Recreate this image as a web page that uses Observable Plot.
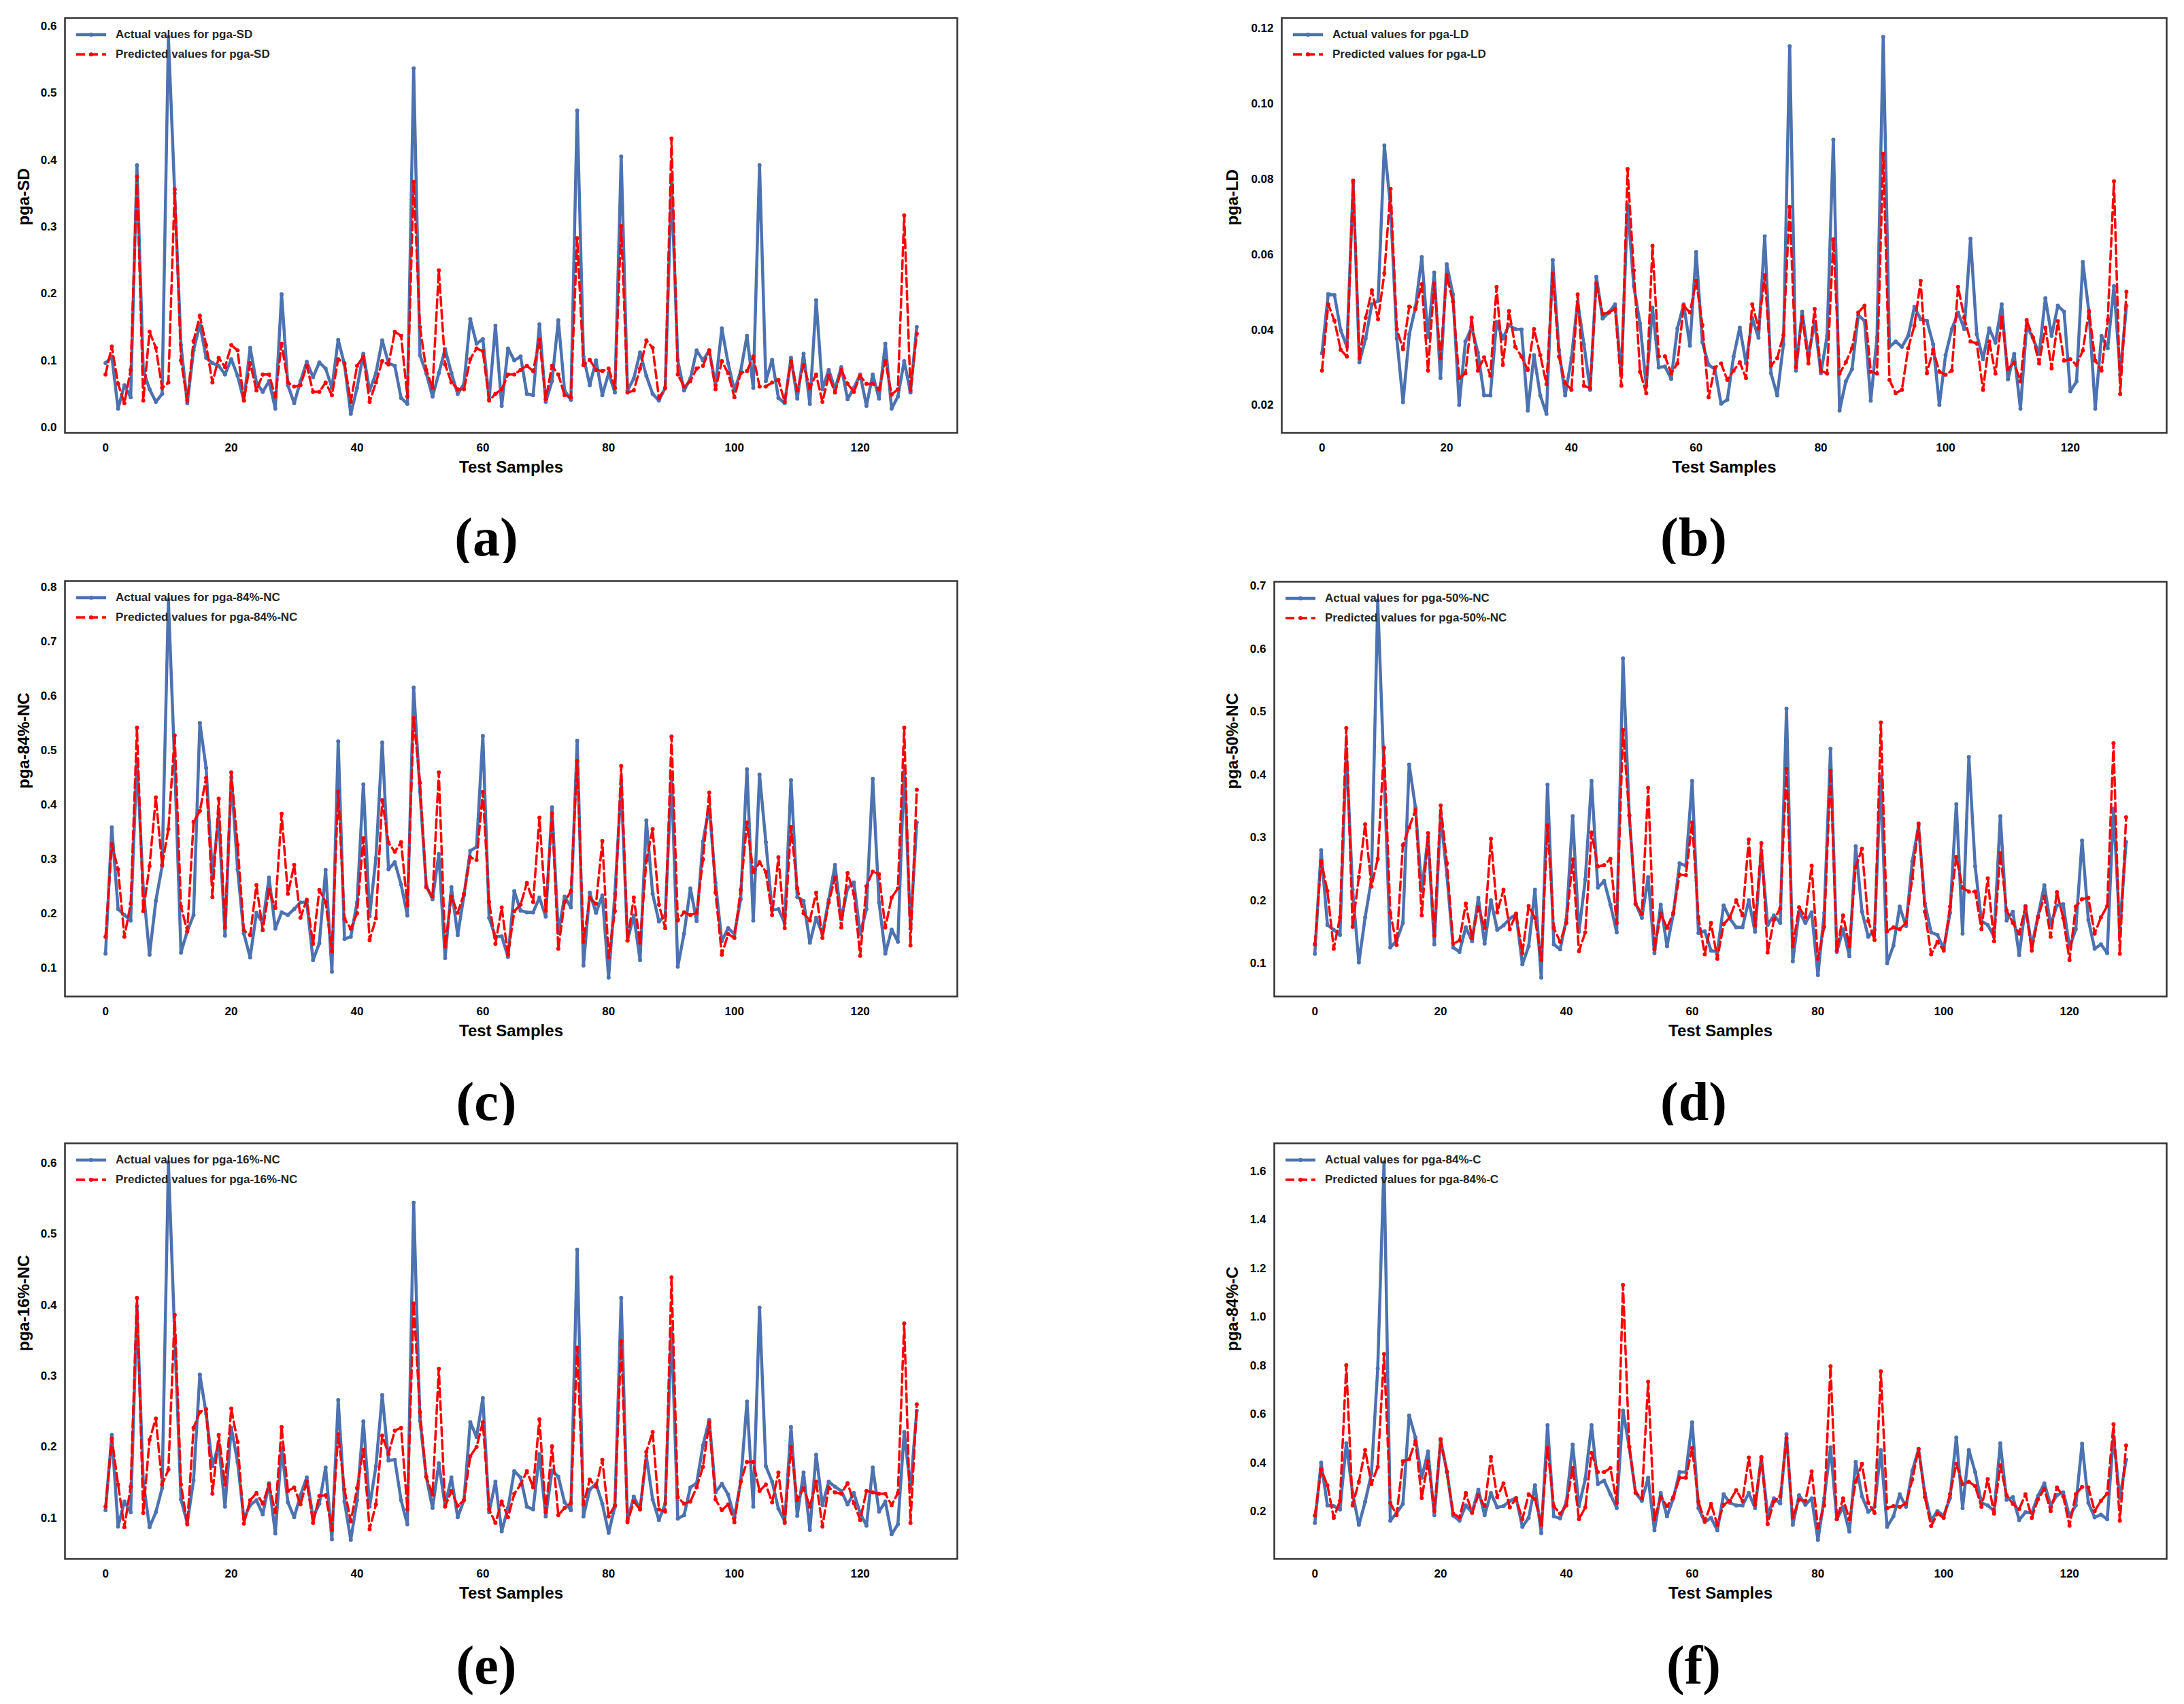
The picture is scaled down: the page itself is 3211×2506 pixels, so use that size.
<!DOCTYPE html>
<html>
<head>
<meta charset="utf-8">
<script src="https://cdn.jsdelivr.net/npm/d3@7"></script>
<script src="https://cdn.jsdelivr.net/npm/@observablehq/plot@0.6"></script>
<style>
  body { margin: 0; background: #fff; }
  #page { position: relative; width: 3211px; height: 2506px; overflow: hidden; background: #fff; }
  .panel { position: absolute; }
  .legend { position: absolute; font-family: "Liberation Sans", Arial, sans-serif; font-weight: bold; font-size: 17px; color: #262626; }
  .legend .row { position: absolute; white-space: nowrap; display: flex; align-items: center; }
  .legend svg { margin-right: 14px; }
  .letter { position: absolute; font-family: "Liberation Serif", "DejaVu Serif", serif; font-weight: bold; font-size: 80px; transform: translate(-50%, -50%); color: #000; }
</style>
</head>
<body>
<div id="page"></div>
<script>
// x axis ticks shared by all panels
const xTicks = [0, 20, 40, 60, 80, 100, 120];

// (a) pga-SD
const sdActual = [0.096,0.106,0.028,0.063,0.045,0.392,0.086,0.057,0.038,0.050,0.584,0.350,0.123,0.036,0.115,0.154,0.104,0.096,0.092,0.079,
  0.102,0.077,0.040,0.119,0.067,0.053,0.069,0.028,0.199,0.063,0.036,0.069,0.098,0.075,0.097,0.088,0.059,0.131,0.094,0.020,
  0.059,0.110,0.055,0.081,0.130,0.096,0.092,0.044,0.035,0.537,0.108,0.081,0.046,0.081,0.117,0.081,0.050,0.065,0.162,0.125,
  0.132,0.042,0.152,0.032,0.118,0.100,0.106,0.050,0.048,0.154,0.038,0.069,0.160,0.055,0.041,0.474,0.106,0.063,0.100,0.048,
  0.081,0.052,0.405,0.055,0.073,0.112,0.077,0.050,0.040,0.059,0.365,0.100,0.055,0.073,0.115,0.100,0.115,0.063,0.148,0.096,
  0.055,0.084,0.137,0.059,0.392,0.069,0.101,0.044,0.036,0.104,0.043,0.110,0.035,0.190,0.057,0.086,0.057,0.090,0.042,0.059,
  0.079,0.032,0.079,0.043,0.125,0.028,0.046,0.099,0.052,0.150];
const sdPred = [0.079,0.121,0.065,0.036,0.086,0.375,0.040,0.143,0.119,0.059,0.067,0.356,0.100,0.040,0.129,0.167,0.123,0.067,0.104,0.090,
  0.123,0.115,0.040,0.096,0.055,0.079,0.079,0.046,0.125,0.067,0.061,0.063,0.092,0.053,0.053,0.067,0.048,0.102,0.096,0.038,
  0.092,0.106,0.038,0.067,0.099,0.094,0.143,0.137,0.046,0.367,0.150,0.086,0.059,0.235,0.094,0.067,0.057,0.057,0.102,0.118,
  0.114,0.040,0.050,0.057,0.079,0.079,0.086,0.092,0.084,0.131,0.042,0.092,0.079,0.048,0.045,0.283,0.093,0.101,0.086,0.084,
  0.088,0.059,0.301,0.052,0.055,0.088,0.130,0.119,0.044,0.059,0.432,0.079,0.061,0.069,0.088,0.092,0.115,0.057,0.099,0.081,
  0.045,0.081,0.084,0.106,0.061,0.061,0.067,0.071,0.038,0.099,0.055,0.093,0.059,0.079,0.038,0.077,0.052,0.086,0.065,0.053,
  0.077,0.065,0.065,0.057,0.099,0.049,0.057,0.317,0.055,0.140];
const sdTicks = [0, 0.1, 0.2, 0.3, 0.4, 0.5, 0.6];

// (b) pga-LD
const ldActual = [0.0338,0.0495,0.0492,0.0399,0.0355,0.0790,0.0314,0.0377,0.0468,0.0477,0.0889,0.0725,0.0377,0.0208,0.0388,0.0461,0.0593,0.0380,0.0552,0.0272,
  0.0574,0.0494,0.0201,0.0369,0.0406,0.0340,0.0226,0.0226,0.0421,0.0377,0.0413,0.0402,0.0401,0.0186,0.0333,0.0226,0.0177,0.0585,0.0347,0.0226,
  0.0325,0.0475,0.0362,0.0241,0.0541,0.0430,0.0446,0.0468,0.0281,0.0732,0.0516,0.0417,0.0252,0.0459,0.0300,0.0303,0.0270,0.0404,0.0468,0.0358,
  0.0606,0.0367,0.0307,0.0296,0.0204,0.0215,0.0329,0.0406,0.0311,0.0431,0.0379,0.0648,0.0285,0.0226,0.0362,0.1152,0.0292,0.0448,0.0329,0.0421,
  0.0285,0.0384,0.0904,0.0186,0.0263,0.0296,0.0439,0.0424,0.0212,0.0380,0.1177,0.0355,0.0369,0.0355,0.0384,0.0461,0.0428,0.0424,0.0362,0.0201,
  0.0333,0.0402,0.0446,0.0402,0.0642,0.0388,0.0322,0.0404,0.0366,0.0468,0.0269,0.0336,0.0191,0.0410,0.0379,0.0336,0.0484,0.0384,0.0464,0.0448,
  0.0237,0.0263,0.0580,0.0446,0.0191,0.0384,0.0351,0.0516,0.0281,0.0464];
const ldPred = [0.0292,0.0468,0.0424,0.0347,0.0329,0.0796,0.0325,0.0432,0.0505,0.0428,0.0550,0.0774,0.0402,0.0349,0.0462,0.0455,0.0521,0.0292,0.0523,0.0325,
  0.0545,0.0475,0.0272,0.0285,0.0432,0.0292,0.0327,0.0278,0.0514,0.0307,0.0450,0.0355,0.0329,0.0294,0.0402,0.0333,0.0256,0.0549,0.0329,0.0259,
  0.0241,0.0494,0.0252,0.0245,0.0523,0.0442,0.0446,0.0455,0.0252,0.0826,0.0558,0.0289,0.0232,0.0623,0.0330,0.0330,0.0285,0.0311,0.0464,0.0446,
  0.0530,0.0413,0.0221,0.0300,0.0311,0.0267,0.0292,0.0314,0.0272,0.0468,0.0404,0.0545,0.0305,0.0325,0.0386,0.0726,0.0301,0.0435,0.0311,0.0455,
  0.0292,0.0284,0.0640,0.0284,0.0314,0.0351,0.0446,0.0464,0.0289,0.0284,0.0867,0.0267,0.0232,0.0241,0.0351,0.0411,0.0530,0.0285,0.0347,0.0289,
  0.0281,0.0292,0.0514,0.0432,0.0369,0.0364,0.0241,0.0369,0.0284,0.0432,0.0296,0.0313,0.0263,0.0426,0.0380,0.0311,0.0406,0.0298,0.0423,0.0318,
  0.0322,0.0307,0.0345,0.0450,0.0318,0.0292,0.0426,0.0794,0.0230,0.0501];
const ldTicks = [0.02, 0.04, 0.06, 0.08, 0.10, 0.12];

// (c) pga-84%-NC
const nc84Actual = [0.126,0.358,0.208,0.197,0.187,0.483,0.246,0.124,0.223,0.287,0.776,0.473,0.128,0.167,0.197,0.550,0.467,0.271,0.378,0.159,
  0.450,0.281,0.163,0.119,0.201,0.182,0.266,0.172,0.202,0.197,0.208,0.220,0.221,0.114,0.145,0.280,0.093,0.516,0.153,0.157,
  0.220,0.437,0.195,0.302,0.514,0.281,0.294,0.253,0.196,0.615,0.424,0.251,0.226,0.309,0.118,0.248,0.160,0.233,0.315,0.322,
  0.526,0.192,0.157,0.158,0.120,0.241,0.205,0.202,0.202,0.229,0.194,0.395,0.164,0.231,0.211,0.517,0.104,0.238,0.201,0.233,
  0.082,0.236,0.437,0.150,0.196,0.114,0.371,0.236,0.185,0.196,0.452,0.102,0.163,0.246,0.186,0.332,0.396,0.256,0.149,0.173,
  0.162,0.226,0.465,0.187,0.455,0.331,0.206,0.208,0.182,0.445,0.230,0.223,0.146,0.192,0.162,0.225,0.289,0.189,0.246,0.257,
  0.162,0.208,0.447,0.220,0.126,0.170,0.148,0.470,0.172,0.367];
const nc84Pred = [0.157,0.327,0.281,0.157,0.218,0.541,0.204,0.287,0.413,0.289,0.355,0.527,0.213,0.167,0.368,0.388,0.449,0.230,0.411,0.174,
  0.459,0.326,0.169,0.160,0.252,0.169,0.243,0.210,0.383,0.236,0.289,0.192,0.225,0.144,0.243,0.221,0.130,0.424,0.190,0.172,
  0.200,0.338,0.151,0.191,0.408,0.330,0.313,0.331,0.215,0.559,0.440,0.248,0.231,0.459,0.139,0.231,0.201,0.236,0.303,0.298,
  0.423,0.221,0.144,0.211,0.124,0.204,0.216,0.256,0.221,0.376,0.205,0.384,0.135,0.221,0.241,0.480,0.148,0.228,0.218,0.333,
  0.119,0.204,0.471,0.150,0.229,0.146,0.297,0.355,0.216,0.173,0.525,0.187,0.202,0.197,0.201,0.299,0.422,0.238,0.124,0.162,
  0.155,0.243,0.367,0.276,0.294,0.276,0.197,0.303,0.173,0.359,0.246,0.200,0.187,0.238,0.155,0.220,0.266,0.174,0.274,0.236,
  0.122,0.250,0.277,0.272,0.174,0.229,0.246,0.541,0.141,0.427];
const nc84Ticks = [0.1, 0.2, 0.3, 0.4, 0.5, 0.6, 0.7, 0.8];

// (d) pga-50%-NC
const nc50Actual = [0.115,0.280,0.161,0.153,0.145,0.441,0.217,0.101,0.173,0.233,0.677,0.405,0.125,0.136,0.164,0.416,0.348,0.215,0.301,0.130,
  0.335,0.240,0.125,0.118,0.157,0.135,0.204,0.131,0.200,0.153,0.160,0.171,0.178,0.098,0.127,0.217,0.077,0.384,0.130,0.122,
  0.170,0.334,0.150,0.233,0.390,0.220,0.231,0.193,0.149,0.585,0.335,0.195,0.172,0.237,0.116,0.193,0.127,0.178,0.259,0.255,
  0.390,0.148,0.151,0.120,0.118,0.192,0.171,0.157,0.157,0.200,0.150,0.279,0.161,0.176,0.164,0.505,0.103,0.182,0.164,0.181,
  0.081,0.180,0.441,0.118,0.154,0.111,0.286,0.182,0.142,0.153,0.396,0.100,0.128,0.190,0.159,0.262,0.319,0.195,0.149,0.145,
  0.123,0.180,0.353,0.147,0.428,0.254,0.167,0.161,0.142,0.334,0.168,0.182,0.113,0.191,0.127,0.175,0.224,0.161,0.192,0.194,
  0.125,0.154,0.295,0.169,0.123,0.130,0.116,0.346,0.153,0.293];
const nc50Pred = [0.130,0.262,0.215,0.123,0.173,0.474,0.158,0.237,0.321,0.222,0.266,0.443,0.180,0.129,0.288,0.316,0.344,0.176,0.307,0.144,
  0.351,0.259,0.131,0.136,0.195,0.140,0.189,0.156,0.298,0.181,0.217,0.154,0.179,0.116,0.191,0.172,0.105,0.319,0.156,0.134,
  0.164,0.265,0.119,0.149,0.308,0.254,0.256,0.266,0.164,0.471,0.335,0.194,0.179,0.379,0.122,0.179,0.156,0.180,0.241,0.240,
  0.324,0.173,0.114,0.164,0.107,0.162,0.173,0.200,0.176,0.297,0.160,0.291,0.117,0.169,0.187,0.409,0.127,0.189,0.173,0.255,
  0.107,0.158,0.406,0.120,0.176,0.127,0.253,0.282,0.167,0.137,0.483,0.151,0.157,0.154,0.164,0.235,0.322,0.182,0.114,0.134,
  0.120,0.190,0.269,0.220,0.214,0.214,0.154,0.235,0.135,0.275,0.184,0.164,0.147,0.190,0.120,0.173,0.206,0.142,0.213,0.172,
  0.105,0.190,0.202,0.204,0.147,0.173,0.191,0.450,0.115,0.332];
const nc50Ticks = [0.1, 0.2, 0.3, 0.4, 0.5, 0.6, 0.7];

// (e) pga-16%-NC
const nc16Actual = [0.111,0.217,0.088,0.123,0.108,0.398,0.151,0.087,0.108,0.142,0.601,0.358,0.126,0.093,0.153,0.302,0.247,0.173,0.204,0.116,
  0.227,0.179,0.099,0.118,0.125,0.105,0.149,0.078,0.198,0.122,0.101,0.132,0.157,0.101,0.120,0.171,0.070,0.266,0.123,0.069,
  0.125,0.236,0.116,0.173,0.273,0.181,0.182,0.125,0.091,0.544,0.237,0.158,0.114,0.177,0.117,0.157,0.101,0.125,0.235,0.214,
  0.269,0.108,0.151,0.081,0.114,0.166,0.157,0.116,0.112,0.190,0.102,0.167,0.158,0.122,0.111,0.478,0.102,0.140,0.148,0.120,
  0.079,0.116,0.410,0.096,0.130,0.112,0.187,0.126,0.097,0.120,0.367,0.099,0.104,0.143,0.149,0.202,0.238,0.136,0.148,0.133,
  0.101,0.151,0.264,0.116,0.396,0.173,0.151,0.113,0.095,0.228,0.103,0.164,0.083,0.189,0.118,0.151,0.144,0.138,0.119,0.135,
  0.107,0.089,0.171,0.109,0.123,0.077,0.091,0.221,0.142,0.251];
const nc16Pred = [0.116,0.212,0.147,0.087,0.144,0.410,0.107,0.210,0.240,0.147,0.168,0.386,0.147,0.091,0.227,0.249,0.253,0.134,0.217,0.147,
  0.254,0.207,0.092,0.125,0.135,0.120,0.147,0.108,0.228,0.138,0.143,0.119,0.151,0.093,0.131,0.132,0.083,0.218,0.140,0.095,
  0.142,0.196,0.084,0.119,0.216,0.190,0.223,0.227,0.112,0.402,0.249,0.158,0.133,0.310,0.116,0.138,0.117,0.125,0.187,0.200,
  0.235,0.112,0.093,0.123,0.101,0.134,0.147,0.166,0.143,0.239,0.108,0.201,0.104,0.114,0.121,0.340,0.119,0.154,0.144,0.182,
  0.102,0.118,0.349,0.094,0.123,0.112,0.193,0.221,0.112,0.109,0.439,0.129,0.120,0.123,0.143,0.172,0.235,0.126,0.111,0.119,
  0.094,0.151,0.179,0.179,0.138,0.147,0.122,0.164,0.093,0.200,0.125,0.142,0.116,0.151,0.088,0.143,0.136,0.134,0.149,0.121,
  0.097,0.138,0.136,0.134,0.134,0.118,0.135,0.374,0.093,0.260];
const nc16Ticks = [0.1, 0.2, 0.3, 0.4, 0.5, 0.6];

// (f) pga-84%-C
const c84Actual = [0.153,0.401,0.225,0.222,0.208,0.481,0.276,0.145,0.240,0.356,0.789,1.637,0.162,0.194,0.231,0.595,0.504,0.339,0.447,0.185,
  0.493,0.365,0.183,0.162,0.225,0.197,0.290,0.185,0.276,0.217,0.222,0.244,0.256,0.137,0.174,0.308,0.111,0.555,0.180,0.172,
  0.240,0.475,0.222,0.333,0.555,0.313,0.327,0.271,0.214,0.615,0.464,0.276,0.244,0.339,0.123,0.276,0.180,0.254,0.362,0.362,
  0.567,0.214,0.157,0.174,0.123,0.271,0.236,0.225,0.225,0.276,0.214,0.424,0.185,0.254,0.233,0.518,0.145,0.267,0.228,0.254,
  0.083,0.254,0.464,0.168,0.219,0.117,0.404,0.263,0.199,0.219,0.453,0.137,0.180,0.271,0.219,0.367,0.456,0.276,0.162,0.202,
  0.183,0.256,0.504,0.214,0.453,0.362,0.236,0.225,0.202,0.481,0.248,0.259,0.165,0.197,0.194,0.265,0.316,0.225,0.267,0.279,
  0.180,0.225,0.479,0.236,0.176,0.187,0.168,0.510,0.254,0.413];
const c84Pred = [0.183,0.373,0.308,0.174,0.244,0.802,0.225,0.322,0.453,0.313,0.384,0.848,0.236,0.185,0.407,0.415,0.490,0.256,0.407,0.202,
  0.498,0.362,0.191,0.176,0.276,0.194,0.267,0.222,0.424,0.259,0.316,0.217,0.254,0.168,0.271,0.251,0.145,0.461,0.222,0.191,
  0.225,0.379,0.168,0.217,0.441,0.362,0.362,0.379,0.236,1.132,0.467,0.279,0.254,0.734,0.168,0.259,0.222,0.259,0.339,0.339,
  0.461,0.240,0.160,0.231,0.145,0.228,0.244,0.288,0.244,0.422,0.228,0.422,0.149,0.242,0.263,0.502,0.176,0.248,0.244,0.365,
  0.134,0.225,0.798,0.168,0.254,0.168,0.322,0.396,0.236,0.194,0.777,0.214,0.222,0.219,0.233,0.331,0.458,0.259,0.140,0.191,
  0.174,0.271,0.396,0.313,0.322,0.305,0.219,0.333,0.191,0.390,0.267,0.231,0.210,0.271,0.174,0.251,0.293,0.202,0.299,0.263,
  0.142,0.271,0.301,0.299,0.202,0.244,0.274,0.559,0.162,0.472];
const c84Ticks = [0.2, 0.4, 0.6, 0.8, 1.0, 1.2, 1.4, 1.6];

const BLUE = "#4c72b0";
const RED = "#ff0000";
const FONT = "'Liberation Sans', Arial, Helvetica, sans-serif";

// frame boxes (page px) and label offsets for each sub-figure
const panels = [
  {name: "pga-SD", letter: "(a)", actual: sdActual, pred: sdPred, ticks: sdTicks, fmt: ".1f",
   box: {l: 95, r: 1407, t: 26, b: 636}, ylab: 60, cx: 715, cy: 790},
  {name: "pga-LD", letter: "(b)", actual: ldActual, pred: ldPred, ticks: ldTicks, fmt: ".2f",
   box: {l: 1884, r: 3185, t: 26, b: 636}, ylab: 72, cx: 2490, cy: 790},
  {name: "pga-84%-NC", letter: "(c)", actual: nc84Actual, pred: nc84Pred, ticks: nc84Ticks, fmt: ".1f",
   box: {l: 95, r: 1407, t: 854, b: 1465}, ylab: 60, cx: 715, cy: 1620},
  {name: "pga-50%-NC", letter: "(d)", actual: nc50Actual, pred: nc50Pred, ticks: nc50Ticks, fmt: ".1f",
   box: {l: 1873, r: 3185, t: 855, b: 1465}, ylab: 61, cx: 2490, cy: 1620},
  {name: "pga-16%-NC", letter: "(e)", actual: nc16Actual, pred: nc16Pred, ticks: nc16Ticks, fmt: ".1f",
   box: {l: 95, r: 1407, t: 1681, b: 2292}, ylab: 60, cx: 715, cy: 2449},
  {name: "pga-84%-C", letter: "(f)", actual: c84Actual, pred: c84Pred, ticks: c84Ticks, fmt: ".1f",
   box: {l: 1873, r: 3185, t: 1681, b: 2292}, ylab: 61, cx: 2490, cy: 2449}
];

const page = document.getElementById("page");

function swatch(color, dashed, width) {
  const dash = dashed ? ' stroke-dasharray="13,6"' : '';
  return `<svg width="44" height="12"><line x1="0" y1="6" x2="44" y2="6" stroke="${color}" stroke-width="${width}"${dash}/>` +
    `<circle cx="22" cy="6" r="3" fill="${color}"/></svg>`;
}

function renderPanel(p) {
  const mL = 110, mR = 26, mT = 26, mB = 90;
  const w = p.box.r - p.box.l, h = p.box.b - p.box.t;

  // matplotlib style 5% margins on both axes
  const n = p.actual.length;
  const xPad = (n - 1) * 0.05;
  const [lo, hi] = d3.extent(p.actual.concat(p.pred));
  const yPad = (hi - lo) * 0.05;

  const chart = Plot.plot({
    width: w + mL + mR,
    height: h + mT + mB,
    marginLeft: mL,
    marginRight: mR,
    marginTop: mT,
    marginBottom: mB,
    style: {fontFamily: FONT, fontWeight: "bold", color: "#000", background: "#fff", overflow: "visible"},
    x: {domain: [-xPad, n - 1 + xPad]},
    y: {domain: [lo - yPad, hi + yPad]},
    marks: [
      Plot.axisX({ticks: xTicks, tickSize: 0, tickPadding: 15, tickFormat: d3.format("d"), fontSize: 17, label: null}),
      Plot.axisY({ticks: p.ticks, tickSize: 0, tickPadding: 12, tickFormat: d3.format(p.fmt), fontSize: 17, label: null}),
      Plot.line(p.actual, {x: (d, i) => i, y: d => d, stroke: BLUE, strokeWidth: 4.5}),
      Plot.dot(p.actual, {x: (d, i) => i, y: d => d, r: 3, fill: BLUE}),
      Plot.line(p.pred, {x: (d, i) => i, y: d => d, stroke: RED, strokeWidth: 3.5, strokeDasharray: "13,6"}),
      Plot.dot(p.pred, {x: (d, i) => i, y: d => d, r: 3, fill: RED}),
      Plot.frame({stroke: "#333", strokeWidth: 2.5}),
      Plot.text(["Test Samples"], {frameAnchor: "bottom", dy: 58, fontSize: 24, fontWeight: "bold", fill: "#000"}),
      Plot.text([p.name], {frameAnchor: "left", dx: -p.ylab, rotate: -90, fontSize: 24, fontWeight: "bold", fill: "#000"})
    ]
  });

  const div = document.createElement("div");
  div.className = "panel";
  div.style.left = (p.box.l - mL) + "px";
  div.style.top = (p.box.t - mT) + "px";
  div.appendChild(chart);
  page.appendChild(div);

  // legend, top-left inside the frame
  const legend = document.createElement("div");
  legend.className = "legend";
  legend.style.left = (p.box.l + 17) + "px";
  legend.style.top = p.box.t + "px";
  legend.innerHTML =
    `<div class="row" style="top:15px">${swatch(BLUE, false, 4.5)}<span>Actual values for ${p.name}</span></div>` +
    `<div class="row" style="top:44px">${swatch(RED, true, 3.5)}<span>Predicted values for ${p.name}</span></div>`;
  page.appendChild(legend);

  const letter = document.createElement("div");
  letter.className = "letter";
  letter.style.left = p.cx + "px";
  letter.style.top = p.cy + "px";
  letter.textContent = p.letter;
  page.appendChild(letter);
}

panels.forEach(renderPanel);
</script>
</body>
</html>
